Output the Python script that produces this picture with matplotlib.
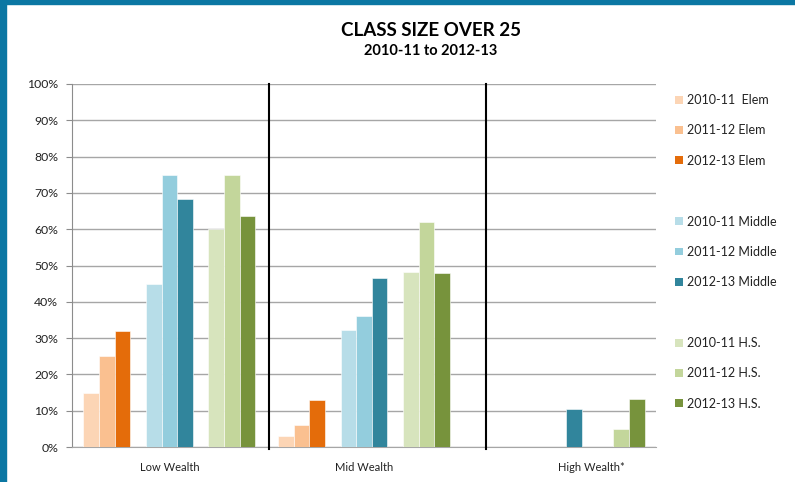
import numpy as np
import matplotlib.pyplot as plt
import matplotlib.transforms as mtransforms
from matplotlib.patches import Rectangle, Patch

plt.rcParams['font.family'] = ['Lato', 'DejaVu Sans']

groups = ['Low Wealth', 'Mid Wealth', 'High Wealth*']

series_labels = ['2010-11  Elem', '2011-12 Elem', '2012-13 Elem',
                 '2010-11 Middle', '2011-12 Middle', '2012-13 Middle',
                 '2010-11 H.S.', '2011-12 H.S.', '2012-13 H.S.']

# percent, one list per series, order: Low, Mid, High
elem_10 = [15, 3, 0]
elem_11 = [25, 6, 0]
elem_12 = [32, 13, 0]
mid_10 = [45, 32.2, 0]
mid_11 = [75, 36, 0]
mid_12 = [68.2, 46.5, 10.5]
hs_10 = [60, 48.3, 0]
hs_11 = [75, 62, 5]
hs_12 = [63.6, 48, 13.3]

colors = ['#fcd5b5', '#fac090', '#e46c0a',
          '#b7dde8', '#93cddd', '#31859c',
          '#d7e4bd', '#c3d69b', '#77933c']

values = [elem_10, elem_11, elem_12, mid_10, mid_11, mid_12, hs_10, hs_11, hs_12]

fig = plt.figure(figsize=(7.95, 4.82), dpi=100)
W, H = 795, 482
ax = fig.add_axes([72 / W, 35 / H, (656 - 72) / W, (447 - 84) / H])

# blue frame of the slide
fig.patches.append(Rectangle((0, 0), 6 / W, 1, transform=fig.transFigure,
                             color='#0b77a3', zorder=10))
fig.patches.append(Rectangle((0, 1 - 4 / H), 1, 4 / H, transform=fig.transFigure,
                             color='#0b77a3', zorder=10))

# 11 slots per group, slots 3 and 7 left empty as spacers
n_slots = 11
group_w = 1 - 23 / 195
bw = group_w / n_slots
slot_of = [0, 1, 2, 4, 5, 6, 8, 9, 10]
x = np.arange(len(groups))
for i, vals in enumerate(values):
    pos = x - group_w / 2 + (slot_of[i] + 0.5) * bw
    ax.bar(pos, vals, width=bw, color=colors[i], edgecolor='white',
           linewidth=0.4, zorder=3)

ax.set_xlim(-0.5, 2.5)
ax.set_ylim(0, 100)
ax.set_yticks(np.arange(0, 101, 10))
ax.set_yticklabels([f'{v}%' for v in range(0, 101, 10)], fontsize=8.8, color='#222222')
ax.yaxis.grid(True, color='#a6a6a6', linewidth=1, zorder=0)
ax.set_axisbelow(True)
ax.tick_params(axis='y', length=4, color='#8c8c8c', pad=6)
ax.tick_params(axis='x', length=0, pad=11)
ax.set_xticks(x)
ax.set_xticklabels(groups, fontsize=8, color='#222222')
# last label sits right of its group in the original
offset = mtransforms.ScaledTranslation(33 / 100, 0, fig.dpi_scale_trans)
lbl = ax.get_xticklabels()[2]
lbl.set_transform(lbl.get_transform() + offset)

for s in ['top', 'right']:
    ax.spines[s].set_visible(False)
ax.spines['left'].set_color('#8c8c8c')
ax.spines['bottom'].set_color('#a6a6a6')

# hand-drawn dividers
for xd in [(269.5 - 72) / 195 - 0.5, (487 - 72) / 195 - 0.5]:
    ax.plot([xd, xd], [-0.6, 100], color='black', linewidth=1.5,
            clip_on=False, zorder=4)

fig.text(431 / W, 1 - 31 / H, 'CLASS SIZE OVER 25', ha='center', va='center',
         fontsize=13.5, fontweight='bold', color='black')
fig.text(431 / W, 1 - 51 / H, '2010-11 to 2012-13', ha='center', va='center',
         fontsize=10.5, fontweight='bold', color='black')

handles = []
labels = []
for i in range(9):
    handles.append(Patch(facecolor=colors[i], edgecolor='none'))
    labels.append(series_labels[i])
    if i in (2, 5):
        handles.append(Patch(facecolor='none', edgecolor='none'))
        labels.append('')
fig.legend(handles, labels, loc='upper left', bbox_to_anchor=(675 / W, 1 - 94 / H),
           frameon=False, fontsize=9, handlelength=0.6, handleheight=0.6,
           handletextpad=0.35, labelspacing=1.47, borderaxespad=0, borderpad=0,
           labelcolor='#222222')

fig.savefig('out.png', dpi=100)
